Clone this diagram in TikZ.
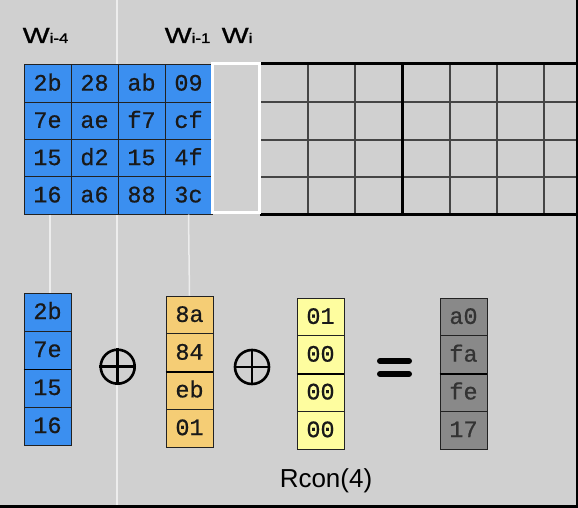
\documentclass[tikz,border=0pt]{standalone}
\usepackage{fontspec}
\setmainfont{Liberation Sans}
\newfontfamily\cellfont[FakeBold=0.7]{Liberation Mono}
\newfontfamily\labfont[FakeBold=0.9]{Liberation Sans}
\usepackage{graphicx}
\definecolor{bg}{HTML}{D0D0D0}
\definecolor{cellblue}{HTML}{3B8FF0}
\definecolor{cellorange}{HTML}{F5CD75}
\definecolor{cellyellow}{HTML}{FEFD9F}
\definecolor{cellgray}{HTML}{898989}
\definecolor{gridline}{HTML}{222222}
\newcommand{\Wlab}[1]{{\labfont\fontsize{22}{22}\selectfont\scalebox{1.3}[1]{W}}{\labfont\fontsize{14}{14}\selectfont\scalebox{1.2}[1]{#1}}}
\begin{document}
\begin{tikzpicture}[x=1pt,y=-1pt,
  cell/.style={draw=gridline, line width=0.9pt, minimum width=47pt, minimum height=37.4pt,
    inner sep=0pt, text height=14pt, text depth=0pt, text=black!90,
    font=\cellfont\fontsize{23.5}{23.5}\selectfont},
  bcell/.style={cell, fill=cellblue},
  ocell/.style={cell, fill=cellorange},
  ycell/.style={cell, fill=cellyellow},
  gcell/.style={cell, fill=cellgray, text=black!80},
  wline/.style={draw=white!93!black, line width=1.5pt},
  thin/.style={draw=gridline!80!bg, line width=1.4pt},
  thick/.style={draw=black, line width=2.6pt},
  oplus/.style={circle, draw=black, line width=2.6pt, minimum size=34pt, inner sep=0pt},
  eqbar/.style={draw=black, line width=6pt, line cap=round},
  wlabel/.style={anchor=base west, inner sep=0pt}]
\useasboundingbox (0,0) rectangle (578,508);
\fill[bg] (0,0) rectangle (578,508);
% long white guide line
\coordinate (vtop) at (117,0);
\coordinate (vbot) at (117,505);
\draw[wline] (vtop) -- (vbot);
% labels
\node[wlabel] (l1) at (22.5,43) {\Wlab{i-4}};
\node[wlabel] (l2) at (164.5,43) {\Wlab{i-1}};
\node[wlabel] (l3) at (221.5,43) {\Wlab{i}};
% blue state grid
\foreach \c/\r/\t in {1/1/2b,2/1/28,3/1/ab,4/1/09,
                      1/2/7e,2/2/ae,3/2/f7,4/2/cf,
                      1/3/15,2/3/d2,3/3/15,4/3/4f,
                      1/4/16,2/4/a6,3/4/88,4/4/3c}
  \node[bcell] (g\r\c) at ({47.5+47*(\c-1)},{83.6+37.25*(\r-1)}) {\t};
% empty right grid
\foreach \y in {102,140,177}
  \draw[thin] (260,\y) -- (578,\y);
\foreach \x in {308,355,450,497,544}
  \draw[thin] (\x,63.5) -- (\x,214.5);
\draw[line width=3pt] (402,63.5) -- (402,214.5);
\draw[thick] (260,63.5) -- (578,63.5);
\draw[thick] (260,214.5) -- (578,214.5);
% white W_i column
\node[draw=white, line width=2.2pt, minimum width=47pt, minimum height=149pt, inner sep=0pt] (wi) at (236,138) {};
% bottom columns
\foreach \r/\t in {1/2b,2/7e,3/15,4/16}
  \node[bcell, minimum height=38pt] (a\r) at (47.5,{312+38*(\r-1)}) {\t};
\foreach \r/\t in {1/8a,2/84,3/eb,4/01}
  \node[ocell, minimum height=37.75pt] (b\r) at (189.5,{314.9+37.75*(\r-1)}) {\t};
\foreach \r/\t in {1/01,2/00,3/00,4/00}
  \node[ycell, minimum height=37.75pt] (c\r) at (320.5,{316.9+37.75*(\r-1)}) {\t};
\foreach \r/\t in {1/a0,2/fa,3/fe,4/17}
  \node[gcell, minimum height=37.75pt] (d\r) at (463.5,{316.9+37.75*(\r-1)}) {\t};
\foreach \n in {a,b,c,d}
  \draw[line width=1.8pt, draw=black] (\n2.south west) -- (\n2.south east);
% guide lines from grid to columns
\draw[wline] ([xshift=2.5pt]g41.south) -- ([xshift=2.5pt]a1.north);
\draw[wline] (g44.south) -- (b1.north);
% operators
\node[oplus] (p1) at (117.7,366.7) {};
\draw[line width=2.6pt] (p1.north) -- (p1.south) (p1.west) -- (p1.east);
\node[oplus] (p2) at (252,367) {};
\draw[line width=2.6pt] (p2.north) -- (p2.south) (p2.west) -- (p2.east);
\coordinate (e1a) at (380,361);
\coordinate (e1b) at (409,361);
\coordinate (e2a) at (380,374);
\coordinate (e2b) at (409,374);
\draw[eqbar] (e1a) -- (e1b);
\draw[eqbar] (e2a) -- (e2b);
% Rcon label
\node[anchor=base, inner sep=0pt, font=\fontsize{26}{26}\selectfont] (rcon) at (326,487) {Rcon(4)};
% frame edges
\fill[black] (0,505) rectangle (578,508);
\fill[black] (576,0) rectangle (578,508);
\end{tikzpicture}
\end{document}
